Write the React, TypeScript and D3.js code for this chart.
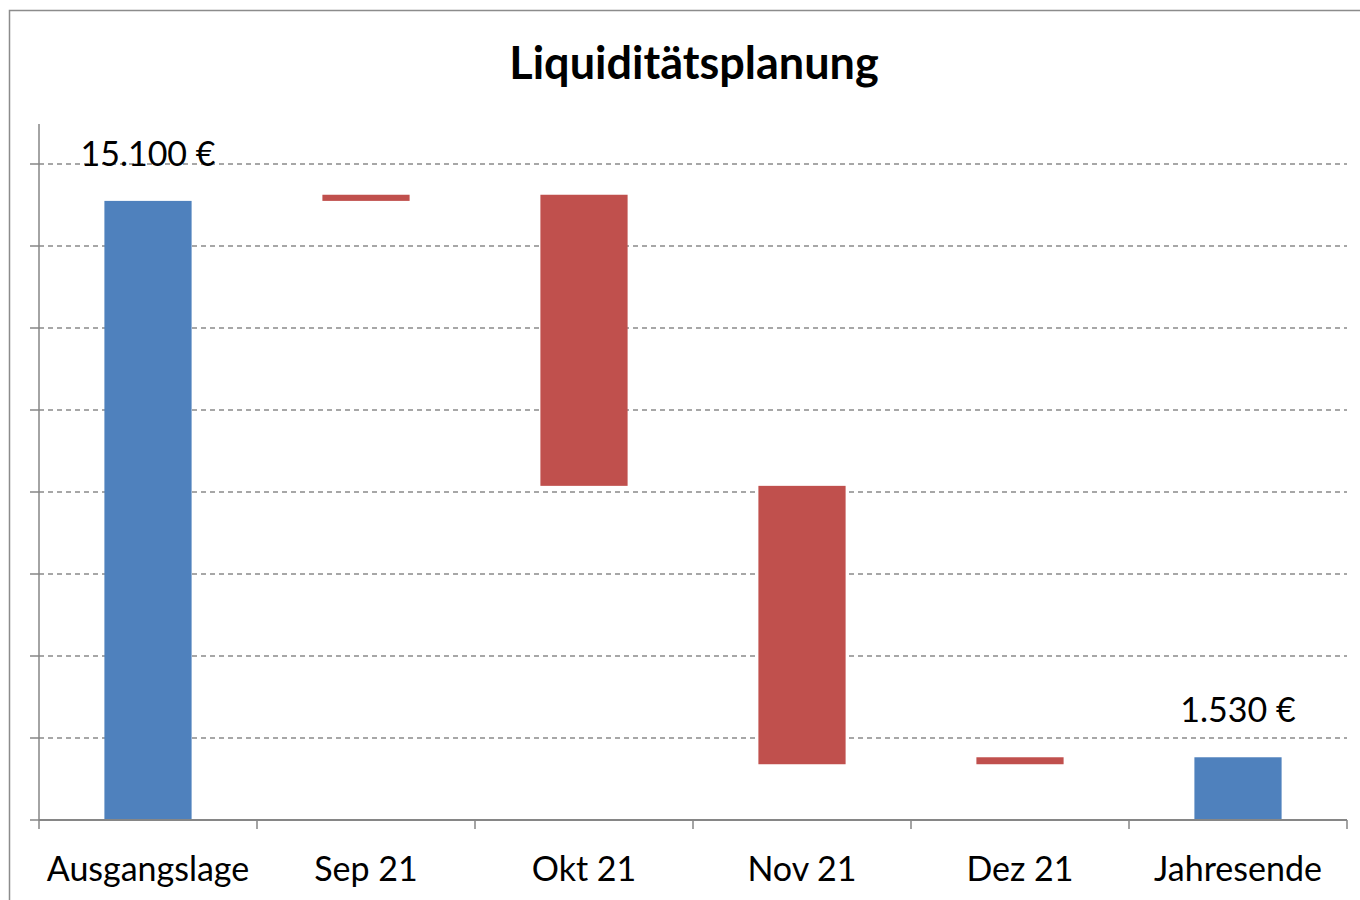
import React from 'react';
import * as d3 from 'd3';

const categories = ['Ausgangslage', 'Sep 21', 'Okt 21', 'Nov 21', 'Dez 21', 'Jahresende'];
// change per step; first and last are totals
const deltas = [15100, 150, -7100, -6790, 170, 1530];
const isTotal = [true, false, false, false, false, true];
const totalLabels = ['15.100 €', '', '', '', '', '1.530 €'];
const gridValues = [2000, 4000, 6000, 8000, 10000, 12000, 14000, 16000];

const W = 1360;
const H = 900;
const margin = { left: 39, right: 13, top: 164, bottom: 80 };

export default function App() {
    const x = d3.scaleBand<string>()
        .domain(categories)
        .range([margin.left, W - margin.right])
        .paddingInner(0.6)
        .paddingOuter(0.3);
    const axisStart = margin.left;
    const axisEnd = W - margin.right;
    const y = d3.scaleLinear().domain([0, 16000]).range([H - margin.bottom, margin.top]);

    // build floating bars
    let running = 0;
    const bars = deltas.map((d, i) => {
        let lo: number, hi: number;
        if (isTotal[i]) {
            lo = 0; hi = d; running = d;
        } else {
            const next = running + d;
            lo = Math.min(running, next); hi = Math.max(running, next);
            running = next;
        }
        return { cat: categories[i], lo, hi, total: isTotal[i], label: totalLabels[i] };
    });

    const font = 'Lato, "Open Sans", sans-serif';
    const axisColor = '#868686';
    const tickPos = d3.range(categories.length + 1).map(i => axisStart + i * (axisEnd - axisStart) / categories.length);

    return (
        <svg width={W} height={H} style={{ position: 'absolute', left: 0, top: 0, background: '#fff' }}>
            <rect x={9.5} y={10.5} width={W + 10} height={H + 10} fill="#fff" stroke="#8c8c8c" strokeWidth={1.5} />
            <text x={694} y={79} textAnchor="middle" fontFamily={font} fontWeight="bold" fontSize={45} fill="#000">
                Liquiditätsplanung
            </text>
            {gridValues.map(v => (
                <g key={v}>
                    <line x1={30} x2={axisStart} y1={y(v)} y2={y(v)} stroke={axisColor} strokeWidth={1.5} />
                    <line x1={axisStart} x2={axisEnd} y1={y(v)} y2={y(v)} stroke="#8a8a8a" strokeWidth={1.3} strokeDasharray="5,4" />
                </g>
            ))}
            {bars.map(b => (
                <rect key={b.cat}
                    x={x(b.cat)}
                    width={x.bandwidth()}
                    y={y(b.hi)}
                    height={Math.max(y(b.lo) - y(b.hi), 1)}
                    fill={b.total ? '#4F81BD' : '#C0504D'} />
            ))}
            <line x1={axisStart} x2={axisStart} y1={124} y2={y(0)} stroke={axisColor} strokeWidth={1.5} />
            <line x1={30} x2={axisStart} y1={y(0)} y2={y(0)} stroke={axisColor} strokeWidth={1.5} />
            <line x1={axisStart} x2={axisEnd} y1={y(0)} y2={y(0)} stroke={axisColor} strokeWidth={2} />
            {tickPos.map((t, i) => (
                <line key={i} x1={t} x2={t} y1={y(0)} y2={y(0) + 9} stroke={axisColor} strokeWidth={1.5} />
            ))}
            {categories.map(c => (
                <text key={c} x={(x(c) ?? 0) + x.bandwidth() / 2} y={881} textAnchor="middle"
                    fontFamily={font} fontSize={34} fill="#000">{c}</text>
            ))}
            {bars.filter(b => b.label).map(b => (
                <text key={'l' + b.cat} x={(x(b.cat) ?? 0) + x.bandwidth() / 2} y={y(b.hi) - 35} textAnchor="middle"
                    fontFamily={font} fontSize={34} fill="#000">{b.label}</text>
            ))}
        </svg>
    );
}
